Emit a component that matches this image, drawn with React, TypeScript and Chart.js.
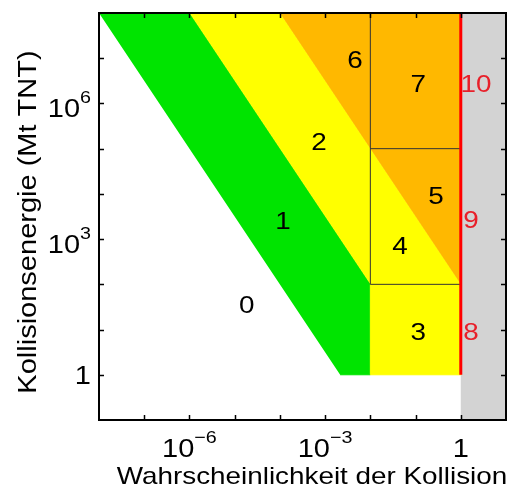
import React, { useEffect, useRef } from "react";
import { Chart, registerables } from "chart.js";

Chart.register(...registerables);

// Probability (x) and energy (y, Mt TNT) vertices of the Torino-scale regions
const greenP = [1e-8, 1e-6, 1e-2, 1e-2, 2.15e-3];
const greenE = [1e8, 1e8, 100, 1, 1];
const yellowP = [1e-6, 1e-4, 1, 1, 1e-2, 1e-2];
const yellowE = [1e8, 1e8, 100, 1, 1, 100];
const orangeP = [1e-4, 1, 1];
const orangeE = [1e8, 1e8, 100];
const grayP = [1, 10, 10, 1];
const grayE = [0.1, 0.1, 1e8, 1e8];
const divVertP = [1e-2, 1e-2];
const divVertE = [100, 1e8];
const divLowP = [1e-2, 1];
const divLowE = [100, 100];
const divHighP = [1e-2, 1];
const divHighE = [1e5, 1e5];
const redP = [1, 1];
const redE = [1, 1e8];

// Region labels
const regionLabels = ["0", "1", "2", "6", "7", "5", "4", "3"];
const regionP = [1.86e-5, 1.17e-4, 7.3e-4, 4.6e-3, 0.114, 0.283, 0.0453, 0.114];
const regionE = [33, 2290, 1.33e5, 8.7e6, 2.45e6, 8500, 668, 8.4];
const certainLabels = ["10", "9", "8"];
const certainP = [2.17, 1.68, 1.68];
const certainE = [2.45e6, 2500, 8.4];

// Axes
const xMin = 1e-8, xMax = 10, yMin = 0.1, yMax = 1e8;
const xTickMarks = [1e-7, 1e-6, 1e-5, 1e-4, 1e-3, 1e-2, 1e-1, 1];
const yTickMarks = [1, 10, 100, 1e3, 1e4, 1e5, 1e6, 1e7];
const xLabelVals = [1e-6, 1e-3, 1];
const xLabelBase = ["10", "10", "1"];
const xLabelSup = ["−6", "−3", ""];
const yLabelVals = [1, 1e3, 1e6];
const yLabelBase = ["1", "10", "10"];
const yLabelSup = ["", "3", "6"];
const xTitle = "Wahrscheinlichkeit der Kollision";
const yTitle = "Kollisionsenergie (Mt TNT)";

const pts = (xs: number[], ys: number[]) => xs.map((x, i) => ({ x, y: ys[i] }));

const FONT = '"Liberation Sans", Arial, sans-serif';
const SX = 1.16;

const decor = {
  id: "decor",
  afterDatasetsDraw(chart: any) {
    const ctx = chart.ctx as CanvasRenderingContext2D;
    const xs = chart.scales.x;
    const ys = chart.scales.y;
    const a = chart.chartArea;
    ctx.save();
    // frame
    ctx.strokeStyle = "#000";
    ctx.lineWidth = 2;
    ctx.strokeRect(a.left, a.top, a.right - a.left, a.bottom - a.top);
    // inward ticks
    ctx.lineWidth = 1.5;
    const tl = 5;
    ctx.beginPath();
    xTickMarks.forEach((v) => {
      const px = Math.round(xs.getPixelForValue(v)) + 0.5;
      ctx.moveTo(px, a.bottom);
      ctx.lineTo(px, a.bottom - tl);
      ctx.moveTo(px, a.top);
      ctx.lineTo(px, a.top + tl);
    });
    yTickMarks.forEach((v) => {
      const py = Math.round(ys.getPixelForValue(v)) + 0.5;
      ctx.moveTo(a.left, py);
      ctx.lineTo(a.left + tl, py);
      ctx.moveTo(a.right, py);
      ctx.lineTo(a.right - tl, py);
    });
    ctx.stroke();

    const stretchText = (t: string, x: number, y: number, size: number, color: string, align: CanvasTextAlign, baseline: CanvasTextBaseline) => {
      ctx.save();
      ctx.translate(x, y);
      ctx.scale(SX, 1);
      ctx.font = `${size}px ${FONT}`;
      ctx.fillStyle = color;
      ctx.textAlign = align;
      ctx.textBaseline = baseline;
      ctx.fillText(t, 0, 0);
      ctx.restore();
    };
    const measure = (t: string, size: number) => {
      ctx.font = `${size}px ${FONT}`;
      return ctx.measureText(t).width * SX;
    };

    // region labels
    regionLabels.forEach((t, i) => {
      stretchText(t, xs.getPixelForValue(regionP[i]), ys.getPixelForValue(regionE[i]), 24, "#000", "center", "middle");
    });
    certainLabels.forEach((t, i) => {
      stretchText(t, xs.getPixelForValue(certainP[i]), ys.getPixelForValue(certainE[i]), 24, "#e8202a", "center", "middle");
    });

    // x tick labels
    const mainSize = 25, supSize = 17;
    xLabelVals.forEach((v, i) => {
      const wb = measure(xLabelBase[i], mainSize);
      const ws = xLabelSup[i] ? measure(xLabelSup[i], supSize) : 0;
      const cx = xs.getPixelForValue(v);
      const left = cx - (wb + ws) / 2;
      const base = 457;
      stretchText(xLabelBase[i], left, base, mainSize, "#000", "left", "alphabetic");
      if (ws) stretchText(xLabelSup[i], left + wb, base - 14, supSize, "#000", "left", "alphabetic");
    });
    // y tick labels
    yLabelVals.forEach((v, i) => {
      const wb = measure(yLabelBase[i], mainSize);
      const ws = yLabelSup[i] ? measure(yLabelSup[i], supSize) : 0;
      const cy = ys.getPixelForValue(v);
      const right = 91;
      const base = yLabelSup[i] ? cy + 14 : cy + 9;
      stretchText(yLabelBase[i], right - ws - wb, base, mainSize, "#000", "left", "alphabetic");
      if (ws) stretchText(yLabelSup[i], right - ws, base - 14, supSize, "#000", "left", "alphabetic");
    });

    // axis titles
    stretchText(xTitle, 312, 484, 24, "#000", "center", "alphabetic");
    ctx.save();
    ctx.translate(36, 222);
    ctx.rotate(-Math.PI / 2);
    ctx.scale(SX, 1);
    ctx.font = `25px ${FONT}`;
    ctx.fillStyle = "#000";
    ctx.textAlign = "center";
    ctx.textBaseline = "alphabetic";
    ctx.fillText(yTitle, 0, 0);
    ctx.restore();

    ctx.restore();
  },
};

export default function App() {
  const ref = useRef<HTMLCanvasElement>(null);
  useEffect(() => {
    document.body.style.margin = "0";
    const shape = (xs: number[], ys: number[], color: string) => ({
      data: pts(xs, ys),
      backgroundColor: color,
      borderColor: color,
      borderWidth: 1,
      pointRadius: 0,
      fill: "shape",
      tension: 0,
    });
    const line = (xs: number[], ys: number[], color: string, w: number) => ({
      data: pts(xs, ys),
      borderColor: color,
      borderWidth: w,
      pointRadius: 0,
      fill: false,
      tension: 0,
    });
    const chart = new Chart(ref.current!, {
      type: "line",
      data: {
        datasets: [
          line(redP, redE, "#ff0000", 3),
          line(divVertP, divVertE, "#333333", 1),
          line(divLowP, divLowE, "#333333", 1),
          line(divHighP, divHighE, "#333333", 1),
          shape(orangeP, orangeE, "#ffb800"),
          shape(yellowP, yellowE, "#ffff00"),
          shape(greenP, greenE, "#00e400"),
          shape(grayP, grayE, "#d3d3d3"),
        ] as any,
      },
      options: {
        animation: false,
        responsive: false,
        layout: { padding: { left: 99, top: 13, right: 11, bottom: 71 } },
        plugins: { legend: { display: false }, tooltip: { enabled: false } },
        scales: {
          x: { type: "logarithmic", min: xMin, max: xMax, display: false },
          y: { type: "logarithmic", min: yMin, max: yMax, display: false },
        },
      },
      plugins: [decor],
    });
    return () => chart.destroy();
  }, []);
  return (
    <div style={{ width: 517, height: 491 }}>
      <canvas ref={ref} width={517} height={491} />
    </div>
  );
}
